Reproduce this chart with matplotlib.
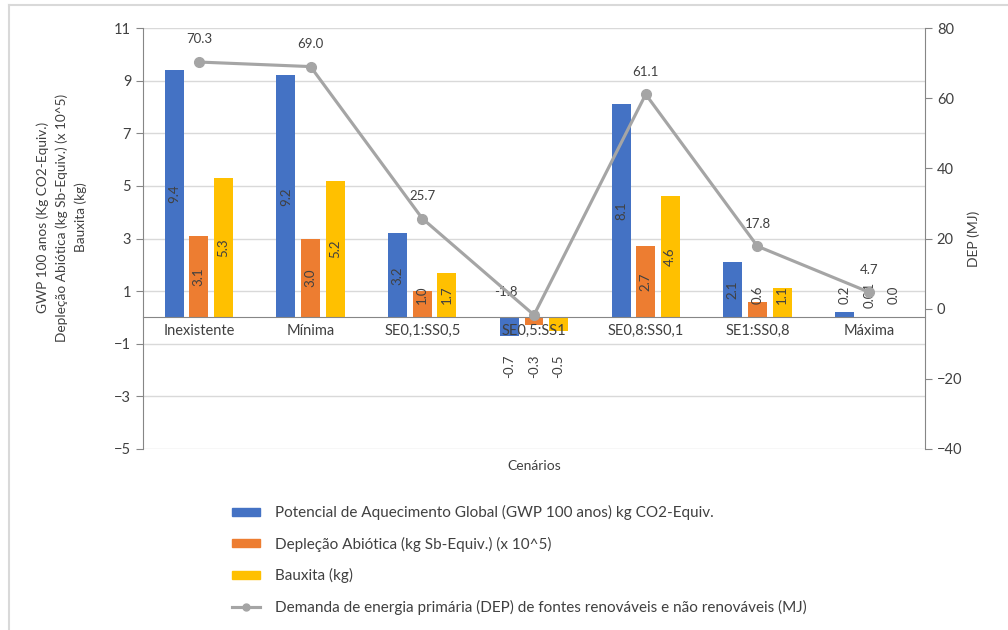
import matplotlib.pyplot as plt
from matplotlib.lines import Line2D
import numpy as np

plt.rcParams['font.family'] = ['Lato', 'DejaVu Sans']

cenarios = ['Inexistente', 'Mínima', 'SE0,1:SS0,5', 'SE0,5:SS1',
            'SE0,8:SS0,1', 'SE1:SS0,8', 'Máxima']
gwp = [9.4, 9.2, 3.2, -0.7, 8.1, 2.1, 0.2]
deplecao = [3.1, 3.0, 1.0, -0.3, 2.7, 0.6, 0.01]
bauxita = [5.3, 5.2, 1.7, -0.5, 4.6, 1.1, 0.0]
dep = [70.3, 69.0, 25.7, -1.8, 61.1, 17.8, 4.7]

nomes = ['Potencial de Aquecimento Global (GWP 100 anos) kg CO2-Equiv.',
         'Depleção Abiótica (kg Sb-Equiv.) (x 10^5)',
         'Bauxita (kg)']
nome_dep = 'Demanda de energia primária (DEP) de fontes renováveis e não renováveis (MJ)'
cores = ['#4472C4', '#ED7D31', '#FFC000']
cinza = '#A5A5A5'
texto = '#404040'


def fmt(v):
    if 0 < abs(v) < 0.05:
        return f'{v:.2f}'
    return f'{v:.1f}'


fig = plt.figure(figsize=(10.08, 6.3), dpi=100)
ax = fig.add_axes([143 / 1008, 1 - 449 / 630, 782 / 1008, 421 / 630])

ax.set_xlim(-0.5, len(cenarios) - 0.5)
ax.set_ylim(-5, 11)
ticks_esq = np.arange(-5, 12, 2)
ax.set_yticks(ticks_esq)
# linhas de grade por baixo das barras, eixo por cima
for t in ticks_esq:
    ax.axhline(t, color='#D9D9D9', lw=1, zorder=0)

x = np.arange(len(cenarios))
largura = 0.17
passo = 0.22
for i, (serie, cor) in enumerate(zip([gwp, deplecao, bauxita], cores)):
    pos = x + (i - 1) * passo
    ax.bar(pos, serie, width=largura, color=cor, zorder=1)
    for xp, v in zip(pos, serie):
        if v < 0:
            yl = -1.85
        else:
            yl = max(v / 2, 0.85)
        ax.text(xp, yl, fmt(v), rotation=90, ha='center', va='center',
                fontsize=9.5, color=texto, zorder=3)

ax.set_xticks(x)
ax.set_xticklabels(cenarios)
for s in ['top', 'right']:
    ax.spines[s].set_visible(False)
ax.spines['bottom'].set_position(('data', 0))
ax.spines['bottom'].set_color('#868686')
ax.spines['left'].set_color('#868686')
ax.tick_params(axis='x', length=0, pad=5, labelsize=10.5, labelcolor=texto)
ax.tick_params(axis='y', length=5, color='#868686', labelsize=10.5,
               labelcolor=texto)
ax.set_ylabel('GWP 100 anos (Kg CO2-Equiv.)\nDepleção Abiótica (kg Sb-Equiv.) (x 10^5)\nBauxita (kg)',
              fontsize=9.8, color=texto, linespacing=1.6)
ax.yaxis.set_label_coords(-0.072, 0.55)
ax.text(0.5, -0.027, 'Cenários', transform=ax.transAxes, ha='center',
        va='top', fontsize=10, color=texto)

ax2 = ax.twinx()
ax2.plot(x, dep, color=cinza, lw=2.25, marker='o', markersize=7, zorder=4)
for xp, v in zip(x, dep):
    dx = -0.25 if v < 0 else 0
    ax2.annotate(fmt(v), (xp + dx, v), xytext=(0, 12), textcoords='offset points',
                 ha='center', va='bottom', fontsize=9.5, color=texto)
ax2.set_ylim(-40, 80)
ax2.set_yticks(np.arange(-40, 81, 20))
for s in ['top', 'left', 'bottom']:
    ax2.spines[s].set_visible(False)
ax2.spines['right'].set_color('#868686')
ax2.tick_params(axis='y', length=5, color='#868686', labelsize=10.5,
                labelcolor=texto)
ax2.set_ylabel('DEP (MJ)', fontsize=10, color=texto, labelpad=4)

handles = [plt.Rectangle((0, 0), 1, 1, color=c) for c in cores]
handles.append(Line2D([], [], color=cinza, lw=2.25, marker='o', markersize=5))
fig.legend(handles, nomes + [nome_dep], loc='upper left',
           bbox_to_anchor=(232 / 1008, 1 - 505 / 630), frameon=False,
           fontsize=11, labelcolor=texto, handlelength=1.83, handleheight=0.45,
           handletextpad=1.0, labelspacing=1.08, borderpad=0, borderaxespad=0)

# moldura clara em volta do gráfico
fig.add_artist(Line2D([9 / 1008, 9 / 1008], [0, 1 - 5 / 630], color='#D9D9D9', lw=1.5))
fig.add_artist(Line2D([9 / 1008, 1], [1 - 5 / 630, 1 - 5 / 630], color='#D9D9D9', lw=1.5))

fig.savefig('out.png', dpi=100)
